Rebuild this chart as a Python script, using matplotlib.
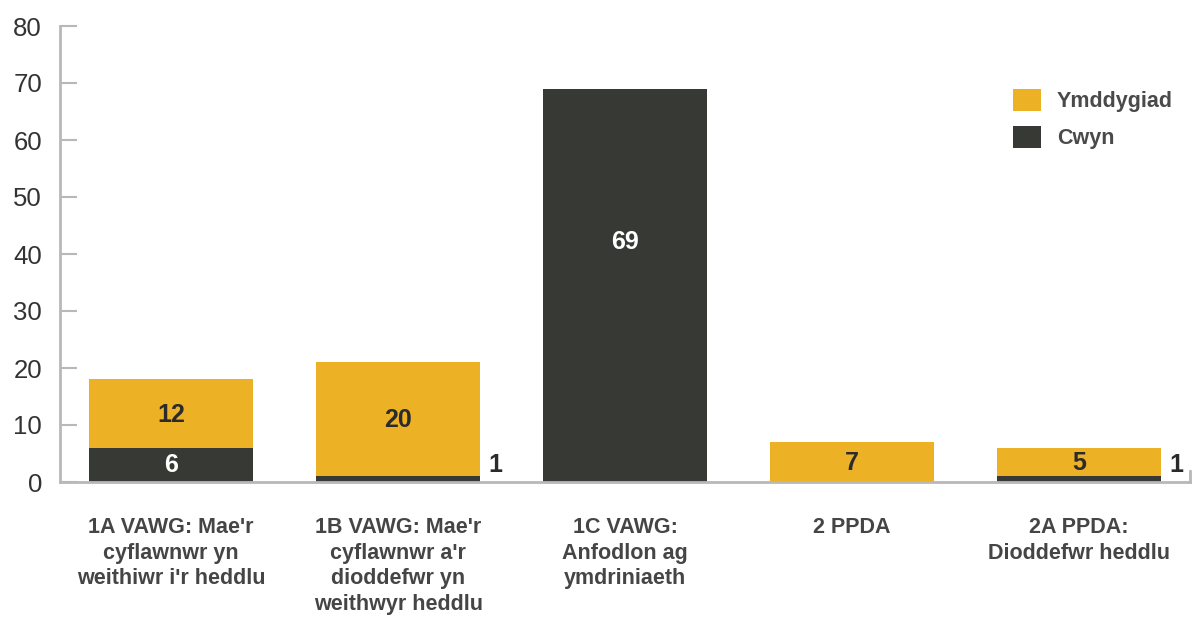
import matplotlib
matplotlib.use("Agg")
import matplotlib.pyplot as plt
from matplotlib.patches import Patch
import numpy as np

categories = [
    "1A VAWG: Mae'r\ncyflawnwr yn\nweithiwr i'r heddlu",
    "1B VAWG: Mae'r\ncyflawnwr a'r\ndioddefwr yn\nweithwyr heddlu",
    "1C VAWG:\nAnfodlon ag\nymdriniaeth",
    "2 PPDA",
    "2A PPDA:\nDioddefwr heddlu",
]
cwyn = [6, 1, 69, 0, 1]
ymddygiad = [12, 20, 0, 7, 5]
series_names = ["Ymddygiad", "Cwyn"]
yticks = [0, 10, 20, 30, 40, 50, 60, 70, 80]

YELLOW = "#ECB125"
DARK = "#373935"
AXIS = "#b8b8b8"
TXT = "#454545"

plt.rcParams['font.family'] = ['Liberation Sans', 'DejaVu Sans']

fig = plt.figure(figsize=(11.95, 6.19), dpi=100)
ax = fig.add_axes([60/1195, (619-482)/619, (1190-60)/1195, (482-26)/619])

x = np.arange(len(categories))
w = 0.72
ax.bar(x, cwyn, width=w, color=DARK, zorder=2)
ax.bar(x, ymddygiad, width=w, bottom=cwyn, color=YELLOW, zorder=2)

# value labels (tall segments get their label placed higher than centre)
for i in range(len(categories)):
    c, y = cwyn[i], ymddygiad[i]
    if y > 0:
        ax.text(x[i], c + y / 2 - 0.2, str(y), ha='center', va='center',
                fontsize=18, fontweight='bold', color="#2b2b2b", zorder=3)
    if c >= 3:
        frac = 0.61 if c > 40 else 0.5
        ax.text(x[i], c * frac, str(c), ha='center', va='center',
                fontsize=18, fontweight='bold', color='white', zorder=3)
    elif c > 0:
        ax.text(x[i] + w / 2 + 0.04, 3, str(c), ha='left', va='center',
                fontsize=18, fontweight='bold', color="#2b2b2b", zorder=3)

ax.set_xlim(-0.49, len(categories) - 1 + 0.49)
ax.set_ylim(0, 80)
ax.set_yticks(yticks)
ax.set_yticklabels([str(t) for t in yticks],
                   fontsize=18.5, color="#333333",
                   family=['Liberation Sans Narrow', 'Liberation Sans', 'DejaVu Sans'])
ax.tick_params(axis='y', direction='in', length=12, width=1.5, color=AXIS, pad=13)
ax.set_xticks(x)
ax.set_xticklabels(categories, fontsize=15.5, fontweight='bold', color=TXT,
                   linespacing=1.3, va='top')
ax.tick_params(axis='x', length=0, pad=25)

ax.spines['top'].set_visible(False)
ax.spines['right'].set_bounds(0, 2)
for s in ['left', 'bottom', 'right']:
    ax.spines[s].set_color(AXIS)
    ax.spines[s].set_linewidth(2)

handles = [Patch(facecolor=YELLOW, edgecolor='none'), Patch(facecolor=DARK, edgecolor='none')]
leg = ax.legend(handles, series_names, loc='upper left', bbox_to_anchor=(0.843, 0.862),
                frameon=False, prop={'size': 15.5, 'weight': 'bold'},
                handlelength=1.3, handleheight=1.2, labelspacing=0.62,
                handletextpad=0.75, borderpad=0, borderaxespad=0)
for t in leg.get_texts():
    t.set_color("#4a4a4a")

fig.savefig("out.png", dpi=100, facecolor='white')
